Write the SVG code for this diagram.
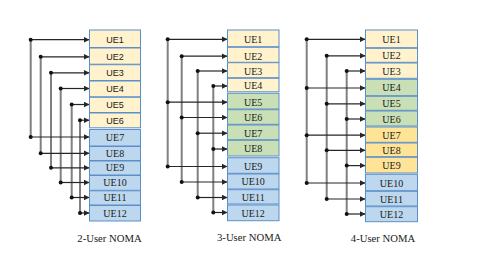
<svg xmlns="http://www.w3.org/2000/svg" width="485" height="274" viewBox="0 0 485 274">
<defs>
<marker id="ah" viewBox="0 0 6 6" refX="6" refY="3" markerWidth="6" markerHeight="6" markerUnits="userSpaceOnUse" orient="auto">
<path d="M0,0 L6,3 L0,6 Z" fill="#262626"/>
</marker>
<style>
.y{fill:#FFF2CC;stroke:#5B8FC9;stroke-width:1}
.g{fill:#C9E0B6;stroke:#5B8FC9;stroke-width:1}
.o{fill:#FFE497;stroke:#5B8FC9;stroke-width:1}
.b{fill:#BDD7EE;stroke:#5B8FC9;stroke-width:1}
.t{font-family:"Liberation Serif",serif;font-size:10px;fill:#1a1a1a;text-anchor:middle}
.s{font-family:"Liberation Sans",sans-serif;font-size:9px;fill:#1a1a1a;text-anchor:middle}
.cap{font-family:"Liberation Serif",serif;font-size:10.7px;fill:#1a1a1a;text-anchor:middle}
.v{stroke:#808080;stroke-width:2;fill:none}
.h{stroke:#262626;stroke-width:1.2;fill:none;marker-end:url(#ah)}
.d{fill:#111}
</style>
</defs>
<rect width="485" height="274" fill="#fff"/>

<g id="connectors">
<!-- panel 1 -->
<path class="v" d="M30.7,39.7V137M40.7,56.8V153.3M51,72.8V167.8M60.7,88.5V182.5M71.7,104.5V197.5M80,120.2V213"/>
<path class="h" d="M30.7,39.7H89.5"/><path class="h" d="M30.7,137H89.5"/>
<path class="h" d="M40.7,56.8H89.5"/><path class="h" d="M40.7,153.3H89.5"/>
<path class="h" d="M51,72.8H89.5"/><path class="h" d="M51,167.8H89.5"/>
<path class="h" d="M60.7,88.5H89.5"/><path class="h" d="M60.7,182.5H89.5"/>
<path class="h" d="M71.7,104.5H89.5"/><path class="h" d="M71.7,197.5H89.5"/>
<path class="h" d="M80,120.2H89.5"/><path class="h" d="M80,213H89.5"/>
<g class="d">
<circle cx="30.7" cy="39.7" r="2"/><circle cx="30.7" cy="137" r="2"/>
<circle cx="40.7" cy="56.8" r="2"/><circle cx="40.7" cy="153.3" r="2"/>
<circle cx="51" cy="72.8" r="2"/><circle cx="51" cy="167.8" r="2"/>
<circle cx="60.7" cy="88.5" r="2"/><circle cx="60.7" cy="182.5" r="2"/>
<circle cx="71.7" cy="104.5" r="2"/><circle cx="71.7" cy="197.5" r="2"/>
<circle cx="80" cy="120.2" r="2"/><circle cx="80" cy="213" r="2"/>
</g>
<!-- panel 2 -->
<path class="v" d="M167.7,39.3V166.5M181.7,56.2V182M197.7,71V197.5M213.3,86V212.5"/>
<path class="h" d="M167.7,39.3H227.5"/><path class="h" d="M167.7,102.2H227.5"/><path class="h" d="M167.7,166.5H227.5"/>
<path class="h" d="M181.7,56.2H227.5"/><path class="h" d="M181.7,117.5H227.5"/><path class="h" d="M181.7,182H227.5"/>
<path class="h" d="M197.7,71H227.5"/><path class="h" d="M197.7,133.2H227.5"/><path class="h" d="M197.7,197.5H227.5"/>
<path class="h" d="M213.3,86H227.5"/><path class="h" d="M213.3,149H227.5"/><path class="h" d="M213.3,212.5H227.5"/>
<g class="d">
<circle cx="167.7" cy="39.3" r="2"/><circle cx="167.7" cy="102.2" r="2"/><circle cx="167.7" cy="166.5" r="2"/>
<circle cx="181.7" cy="56.2" r="2"/><circle cx="181.7" cy="117.5" r="2"/><circle cx="181.7" cy="182" r="2"/>
<circle cx="197.7" cy="71" r="2"/><circle cx="197.7" cy="133.2" r="2"/><circle cx="197.7" cy="197.5" r="2"/>
<circle cx="213.3" cy="86" r="2"/><circle cx="213.3" cy="149" r="2"/><circle cx="213.3" cy="212.5" r="2"/>
</g>
<!-- panel 3 -->
<path class="v" d="M306.7,39.3V183M326.7,55.8V199M346.7,71V214"/>
<path class="h" d="M306.7,39.3H365.5"/><path class="h" d="M306.7,88H365.5"/><path class="h" d="M306.7,135.2H365.5"/><path class="h" d="M306.7,183H365.5"/>
<path class="h" d="M326.7,55.8H365.5"/><path class="h" d="M326.7,103.8H365.5"/><path class="h" d="M326.7,150.3H365.5"/><path class="h" d="M326.7,199H365.5"/>
<path class="h" d="M346.7,71H365.5"/><path class="h" d="M346.7,119H365.5"/><path class="h" d="M346.7,165.6H365.5"/><path class="h" d="M346.7,214H365.5"/>
<g class="d">
<circle cx="306.7" cy="39.3" r="2"/><circle cx="306.7" cy="88" r="2"/><circle cx="306.7" cy="135.2" r="2"/><circle cx="306.7" cy="183" r="2"/>
<circle cx="326.7" cy="55.8" r="2"/><circle cx="326.7" cy="103.8" r="2"/><circle cx="326.7" cy="150.3" r="2"/><circle cx="326.7" cy="199" r="2"/>
<circle cx="346.7" cy="71" r="2"/><circle cx="346.7" cy="119" r="2"/><circle cx="346.7" cy="165.6" r="2"/><circle cx="346.7" cy="214" r="2"/>
</g>
</g>

<g id="panel1">
<g id="p1-ue1"><rect class="y" x="89.5" y="30" width="51" height="17.5"/><text class="s" x="115" y="43">UE1</text></g>
<g id="p1-ue2"><rect class="y" x="89.5" y="48" width="51" height="16.2"/><text class="s" x="115" y="60.1">UE2</text></g>
<g id="p1-ue3"><rect class="y" x="89.5" y="64.7" width="51" height="15.8"/><text class="s" x="115" y="76.1">UE3</text></g>
<g id="p1-ue4"><rect class="y" x="89.5" y="81" width="51" height="15.8"/><text class="s" x="115" y="91.8">UE4</text></g>
<g id="p1-ue5"><rect class="y" x="89.5" y="97.3" width="51" height="15.2"/><text class="s" x="115" y="107.8">UE5</text></g>
<g id="p1-ue6"><rect class="y" x="89.5" y="113" width="51" height="14.8"/><text class="s" x="115" y="123.5">UE6</text></g>
<g id="p1-ue7"><rect class="b" x="89.5" y="129.5" width="51" height="16.5"/><text class="t" x="115" y="140.5">UE7</text></g>
<g id="p1-ue8"><rect class="b" x="89.5" y="146.5" width="51" height="14"/><text class="t" x="115" y="156.8">UE8</text></g>
<g id="p1-ue9"><rect class="b" x="89.5" y="161" width="51" height="14"/><text class="t" x="115" y="171.3">UE9</text></g>
<g id="p1-ue10"><rect class="b" x="89.5" y="175.5" width="51" height="14.8"/><text class="t" x="115" y="186">UE10</text></g>
<g id="p1-ue11"><rect class="b" x="89.5" y="190.8" width="51" height="14.2"/><text class="t" x="115" y="201">UE11</text></g>
<g id="p1-ue12"><rect class="b" x="89.5" y="205.5" width="51" height="15.5"/><text class="t" x="115" y="216.5">UE12</text></g>
</g>

<g id="panel2">
<g id="p2-ue1"><rect class="y" x="227.5" y="30" width="51.5" height="16.7"/><text class="t" x="253.2" y="42.8">UE1</text></g>
<g id="p2-ue2"><rect class="y" x="227.5" y="47.3" width="51.5" height="15"/><text class="t" x="253.2" y="59.7">UE2</text></g>
<g id="p2-ue3"><rect class="y" x="227.5" y="62.7" width="51.5" height="15"/><text class="t" x="253.2" y="74.5">UE3</text></g>
<g id="p2-ue4"><rect class="y" x="227.5" y="78.3" width="51.5" height="13.5"/><text class="t" x="253.2" y="89.3">UE4</text></g>
<g id="p2-ue5"><rect class="g" x="227.5" y="93.3" width="51.5" height="15.7"/><text class="t" x="253.2" y="105.7">UE5</text></g>
<g id="p2-ue6"><rect class="g" x="227.5" y="109.7" width="51.5" height="14.6"/><text class="t" x="253.2" y="121">UE6</text></g>
<g id="p2-ue7"><rect class="g" x="227.5" y="125" width="51.5" height="14.7"/><text class="t" x="253.2" y="136.5">UE7</text></g>
<g id="p2-ue8"><rect class="g" x="227.5" y="140.3" width="51.5" height="15.7"/><text class="t" x="253.2" y="152.3">UE8</text></g>
<g id="p2-ue9"><rect class="b" x="227.5" y="157.7" width="51.5" height="15.6"/><text class="t" x="253.2" y="169.8">UE9</text></g>
<g id="p2-ue10"><rect class="b" x="227.5" y="174" width="51.5" height="15"/><text class="t" x="253.2" y="185.3">UE10</text></g>
<g id="p2-ue11"><rect class="b" x="227.5" y="189.7" width="51.5" height="14.3"/><text class="t" x="253.2" y="200.8">UE11</text></g>
<g id="p2-ue12"><rect class="b" x="227.5" y="205" width="51.5" height="15.7"/><text class="t" x="253.2" y="216.5">UE12</text></g>
</g>

<g id="panel3">
<g id="p3-ue1"><rect class="y" x="365.5" y="30" width="52" height="17.7"/><text class="t" x="391.5" y="42.8">UE1</text></g>
<g id="p3-ue2"><rect class="y" x="365.5" y="48.3" width="52" height="14"/><text class="t" x="391.5" y="59.3">UE2</text></g>
<g id="p3-ue3"><rect class="y" x="365.5" y="63" width="52" height="15.3"/><text class="t" x="391.5" y="74.5">UE3</text></g>
<g id="p3-ue4"><rect class="g" x="365.5" y="79.3" width="52" height="16.4"/><text class="t" x="391.5" y="91.3">UE4</text></g>
<g id="p3-ue5"><rect class="g" x="365.5" y="96.3" width="52" height="14"/><text class="t" x="391.5" y="107.3">UE5</text></g>
<g id="p3-ue6"><rect class="g" x="365.5" y="111" width="52" height="15"/><text class="t" x="391.5" y="122.5">UE6</text></g>
<g id="p3-ue7"><rect class="o" x="365.5" y="127" width="52" height="15.3"/><text class="t" x="391.5" y="138.7">UE7</text></g>
<g id="p3-ue8"><rect class="o" x="365.5" y="143" width="52" height="13.7"/><text class="t" x="391.5" y="153.8">UE8</text></g>
<g id="p3-ue9"><rect class="o" x="365.5" y="157.3" width="52" height="15.7"/><text class="t" x="391.5" y="169.1">UE9</text></g>
<g id="p3-ue10"><rect class="b" x="365.5" y="174.3" width="52" height="16.4"/><text class="t" x="391.5" y="186.5">UE10</text></g>
<g id="p3-ue11"><rect class="b" x="365.5" y="191.3" width="52" height="14.7"/><text class="t" x="391.5" y="202.5">UE11</text></g>
<g id="p3-ue12"><rect class="b" x="365.5" y="206.7" width="52" height="15"/><text class="t" x="391.5" y="217.8">UE12</text></g>
</g>

<g id="captions">
<text class="cap" x="109.5" y="242">2-User NOMA</text>
<text class="cap" x="249.2" y="240.5">3-User NOMA</text>
<text class="cap" x="383" y="242">4-User NOMA</text>
</g>
</svg>
